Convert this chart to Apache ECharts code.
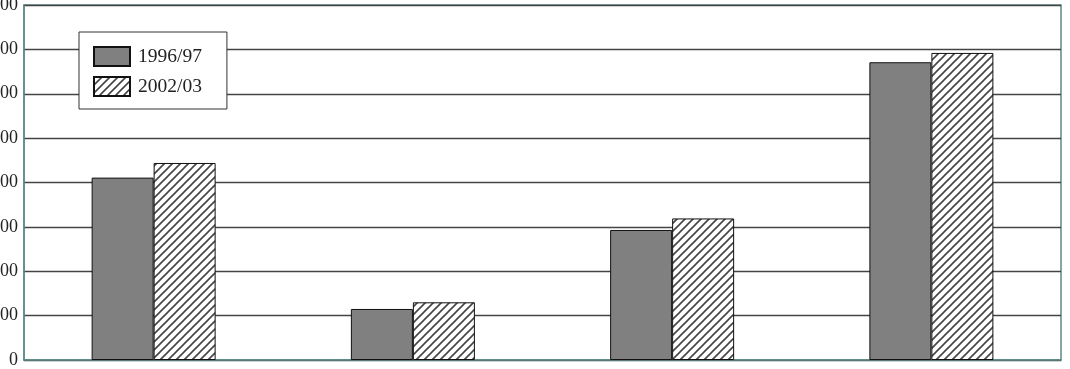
<!DOCTYPE html>
<html>
<head>
<meta charset="utf-8">
<script src="https://cdn.jsdelivr.net/npm/echarts@6/dist/echarts.min.js"></script>
<style>html,body{margin:0;padding:0;background:#fff;}#c{width:1070px;height:369px;}</style>
</head>
<body>
<div id="c"></div>
<script>
const categories = ['Group 1', 'Group 2', 'Group 3', 'Group 4'];
const seriesNames = ['1996/97', '2002/03'];
const values1996 = [411, 115, 293, 671];
const values2002 = [444, 130, 319, 692];
const yTicks = [0, 100, 200, 300, 400, 500, 600, 700, 800];

function hatch() {
  const s = 8;
  const c = document.createElement('canvas');
  c.width = s; c.height = s;
  const g = c.getContext('2d');
  g.fillStyle = '#fff';
  g.fillRect(0, 0, s, s);
  g.strokeStyle = '#444';
  g.lineWidth = 1.6;
  g.beginPath();
  g.moveTo(0, s); g.lineTo(s, 0);
  g.moveTo(-2, 2); g.lineTo(2, -2);
  g.moveTo(s - 2, s + 2); g.lineTo(s + 2, s - 2);
  g.stroke();
  return c;
}

const chart = echarts.init(document.getElementById('c'));
chart.setOption({
  animation: false,
  backgroundColor: '#fff',
  grid: { left: 24, right: 9, top: 5, bottom: 9, show: true, borderColor: '#5b8a8a', borderWidth: 1.5,
          containLabel: false, outerBoundsMode: 'none' },
  legend: {
    left: 79, top: 32, orient: 'vertical', icon: 'rect',
    backgroundColor: '#fff', borderColor: '#333', borderWidth: 1,
    padding: [14, 25, 12, 14], itemGap: 9,
    itemWidth: 36, itemHeight: 19,
    textStyle: { fontFamily: 'Liberation Serif', fontSize: 19.5, color: '#222', padding: [0, 0, 0, 3] },
    data: seriesNames
  },
  xAxis: {
    type: 'category', data: categories,
    axisLine: { show: true, lineStyle: { color: '#5b8a8a', width: 1.5 } },
    axisTick: { show: false }, axisLabel: { show: false }
  },
  yAxis: {
    type: 'value', min: yTicks[0], max: yTicks[yTicks.length - 1], interval: 100,
    axisLine: { show: true, lineStyle: { color: '#5b8a8a', width: 1.5 } },
    axisTick: { show: false },
    axisLabel: { margin: 6, fontFamily: 'Liberation Serif', fontSize: 18, color: '#222' },
    splitLine: { lineStyle: { color: '#444', width: 1.3 } }
  },
  series: [
    { name: seriesNames[0], type: 'bar', data: values1996, barWidth: 62, barGap: '0%',
      itemStyle: { color: '#808080', borderColor: '#111', borderWidth: 1 } },
    { name: seriesNames[1], type: 'bar', data: values2002, barWidth: 62, barGap: '0%',
      itemStyle: { color: { image: hatch(), repeat: 'repeat' }, borderColor: '#111', borderWidth: 1 } }
  ]
});
</script>
</body>
</html>
